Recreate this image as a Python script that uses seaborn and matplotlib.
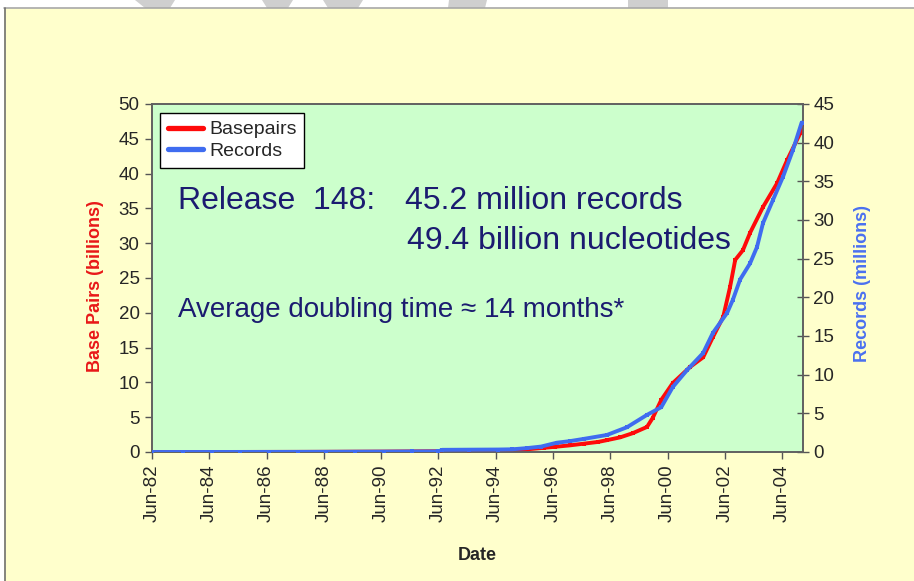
import matplotlib
matplotlib.use("Agg")
import matplotlib.pyplot as plt
from matplotlib.patches import Rectangle, Polygon
from matplotlib.lines import Line2D
import seaborn as sns
import pandas as pd

# ---------------- data ----------------
bp_years = [1982.42, 1983.5, 1984.5, 1985.5, 1986.5, 1987.5, 1988.5, 1989.5, 1990.5,
            1991.5, 1992.5, 1993.5, 1994.5, 1995.0, 1995.5, 1996.1, 1996.5, 1997.0,
            1997.5, 1998.0, 1998.3, 1998.76, 1999.2, 1999.7, 1999.9, 2000.2, 2000.6,
            2001.2, 2001.66, 2002.0, 2002.36, 2002.6, 2002.78, 2003.05, 2003.3,
            2003.75, 2004.24, 2004.6, 2005.05, 2005.14]
basepairs = [0.0007, 0.002, 0.004, 0.009, 0.014, 0.02, 0.03, 0.047, 0.06,
             0.09, 0.12, 0.16, 0.22, 0.3, 0.38, 0.6, 0.75, 0.95,
             1.2, 1.45, 1.7, 2.1, 2.7, 3.6, 4.9, 7.5, 9.9,
             12.2, 13.6, 16.5, 19.4, 23.7, 27.6, 29.0, 31.5,
             35.2, 38.6, 42.0, 45.8, 47.0]

rec_years = [1982.42, 1983.5, 1984.5, 1985.5, 1986.5, 1987.5, 1988.5, 1989.5, 1990.5,
             1991.5, 1992.42, 1992.55, 1993.5, 1994.5, 1995.0, 1995.5, 1996.0, 1996.55,
             1997.0, 1997.5, 1998.3, 1999.0, 1999.7, 2000.2, 2000.6, 2001.1, 2001.66,
             2002.0, 2002.5, 2002.7, 2002.95, 2003.3, 2003.54, 2003.75, 2004.1,
             2004.45, 2004.8, 2005.1]
records = [0.0006, 0.002, 0.004, 0.006, 0.01, 0.015, 0.023, 0.036, 0.049,
           0.07, 0.08, 0.28, 0.3, 0.32, 0.35, 0.5, 0.7, 1.2,
           1.4, 1.7, 2.2, 3.2, 4.8, 5.8, 8.4, 10.6, 12.8,
           15.4, 18.0, 19.7, 22.3, 24.4, 26.5, 29.6, 32.6,
           35.6, 39.1, 42.6]

tick_years = [1982.4167 + 2 * i for i in range(12)]
tick_labels = ["Jun-82", "Jun-84", "Jun-86", "Jun-88", "Jun-90", "Jun-92",
               "Jun-94", "Jun-96", "Jun-98", "Jun-00", "Jun-02", "Jun-04"]

left_ticks = [0, 5, 10, 15, 20, 25, 30, 35, 40, 45, 50]
right_ticks = [0, 5, 10, 15, 20, 25, 30, 35, 40, 45]

bp_df = pd.DataFrame({"Date": bp_years, "Basepairs": basepairs})
rec_df = pd.DataFrame({"Date": rec_years, "Records": records})

# ---------------- style ----------------
sns.set_style("white")
plt.rcParams["font.family"] = ["Liberation Sans", "DejaVu Sans"]

W, H = 914, 581
RED = "#FF0A0A"
BLUE = "#3F6CF0"
NAVY = "#1B1B70"
YELLOW = "#FFFFCC"
GREEN = "#CCFFCC"

fig = plt.figure(figsize=(W / 100, H / 100), dpi=100)
fig.patch.set_facecolor("white")

def fx(px):
    return px / W

def fy(py):
    return 1 - py / H

# yellow slide background with border
fig.patches.append(Rectangle((fx(4), 0), 1 - fx(4), fy(8), transform=fig.transFigure,
                             facecolor=YELLOW, edgecolor="none", zorder=-10))
fig.lines.append(Line2D([fx(4), 1], [fy(8), fy(8)], transform=fig.transFigure,
                        color="#A8A8A8", lw=1.2, zorder=-5))
fig.lines.append(Line2D([fx(4.5), fx(4.5)], [0, fy(8)], transform=fig.transFigure,
                        color="#707070", lw=1.2, zorder=-5))
# grey watermark fragments at top
shapes = [
    [(135, 0), (175, 0), (170, 8), (145, 8)],
    [(262, 0), (293, 0), (288, 8), (267, 8)],
    [(323, 0), (363, 0), (358, 8), (328, 8)],
    [(449, 0), (487, 0), (485, 8), (448, 8)],
    [(628, 0), (668, 0), (668, 8), (628, 8)],
]
for s in shapes:
    fig.patches.append(Polygon([(fx(a), fy(b)) for a, b in s], closed=True,
                               transform=fig.transFigure, facecolor="#CFCFCF",
                               edgecolor="none", zorder=-8))

ax = fig.add_axes([fx(152), fy(452), fx(803) - fx(152), fy(104) - fy(452)])
ax.set_facecolor(GREEN)
ax2 = ax.twinx()
ax2.patch.set_visible(False)

sns.lineplot(data=bp_df, x="Date", y="Basepairs", ax=ax, color=RED, linewidth=2.8,
             marker="s", markersize=2.5, markeredgewidth=0, zorder=3)
sns.lineplot(data=rec_df, x="Date", y="Records", ax=ax2, color=BLUE, linewidth=2.8,
             marker="s", markersize=3.4, markeredgewidth=0, zorder=4)

x0 = 1982.4167
x1 = x0 + 651 / 28.64
ax.set_xlim(x0, x1)
ax.set_ylim(0, 50)
ax2.set_ylim(0, 45)

ax.set_xticks(tick_years)
ax.set_xticklabels(tick_labels, rotation=90, fontsize=13.5)
ax.set_yticks(left_ticks)
ax.set_yticklabels([str(v) for v in left_ticks], fontsize=13.5)
ax2.set_yticks(right_ticks)
ax2.set_yticklabels([str(v) for v in right_ticks], fontsize=13.5)

ax.tick_params(axis="x", direction="out", length=5, width=1, color="#555555", pad=4,
               bottom=True)
ax.tick_params(axis="y", direction="out", length=5, width=1, color="#555555", pad=4,
               left=True)
ax2.tick_params(axis="y", direction="inout", length=9, width=1, color="#555555", pad=3,
                right=True)

for a in (ax, ax2):
    for sp in a.spines.values():
        sp.set_visible(True)
        sp.set_color("#606060")
        sp.set_linewidth(1.2)

ax.set_xlabel("Date", fontsize=13, fontweight="bold", va="center")
ax.xaxis.set_label_coords(0.5, (452 - 555) / 348)
ax.set_ylabel("Base Pairs (billions)", fontsize=13, fontweight="bold", color="#E81818",
              va="center")
ax.yaxis.set_label_coords((95 - 152) / 651, (452 - 286) / 348)
ax2.set_ylabel("Records (millions)", fontsize=13, fontweight="bold", color="#4A70F0",
               rotation=90, va="center")
ax2.yaxis.set_label_coords((863 - 152) / 651, (452 - 283) / 348)

handles = [Line2D([0], [0], color=RED, lw=3.8), Line2D([0], [0], color=BLUE, lw=3.8)]
leg = ax2.legend(handles, ["Basepairs", "Records"], loc="upper left",
                 bbox_to_anchor=(0.013, 0.974), borderaxespad=0, frameon=True,
                 fancybox=False, edgecolor="black", facecolor="white", framealpha=1,
                 fontsize=14, handlelength=1.8, handletextpad=0.3,
                 labelspacing=0.2, borderpad=0.4)
leg.get_frame().set_linewidth(1.0)
leg.set_zorder(10)

fig.text(fx(178), fy(209), "Release  148:", fontsize=23, color=NAVY, va="baseline")
fig.text(fx(405), fy(209), "45.2 million records", fontsize=23, color=NAVY, va="baseline")
fig.text(fx(407), fy(249), "49.4 billion nucleotides", fontsize=23, color=NAVY,
         va="baseline")
fig.text(fx(178), fy(317), "Average doubling time \u2248 14 months*", fontsize=20,
         color=NAVY, va="baseline")

fig.savefig("out.png", dpi=100, facecolor=fig.get_facecolor())
